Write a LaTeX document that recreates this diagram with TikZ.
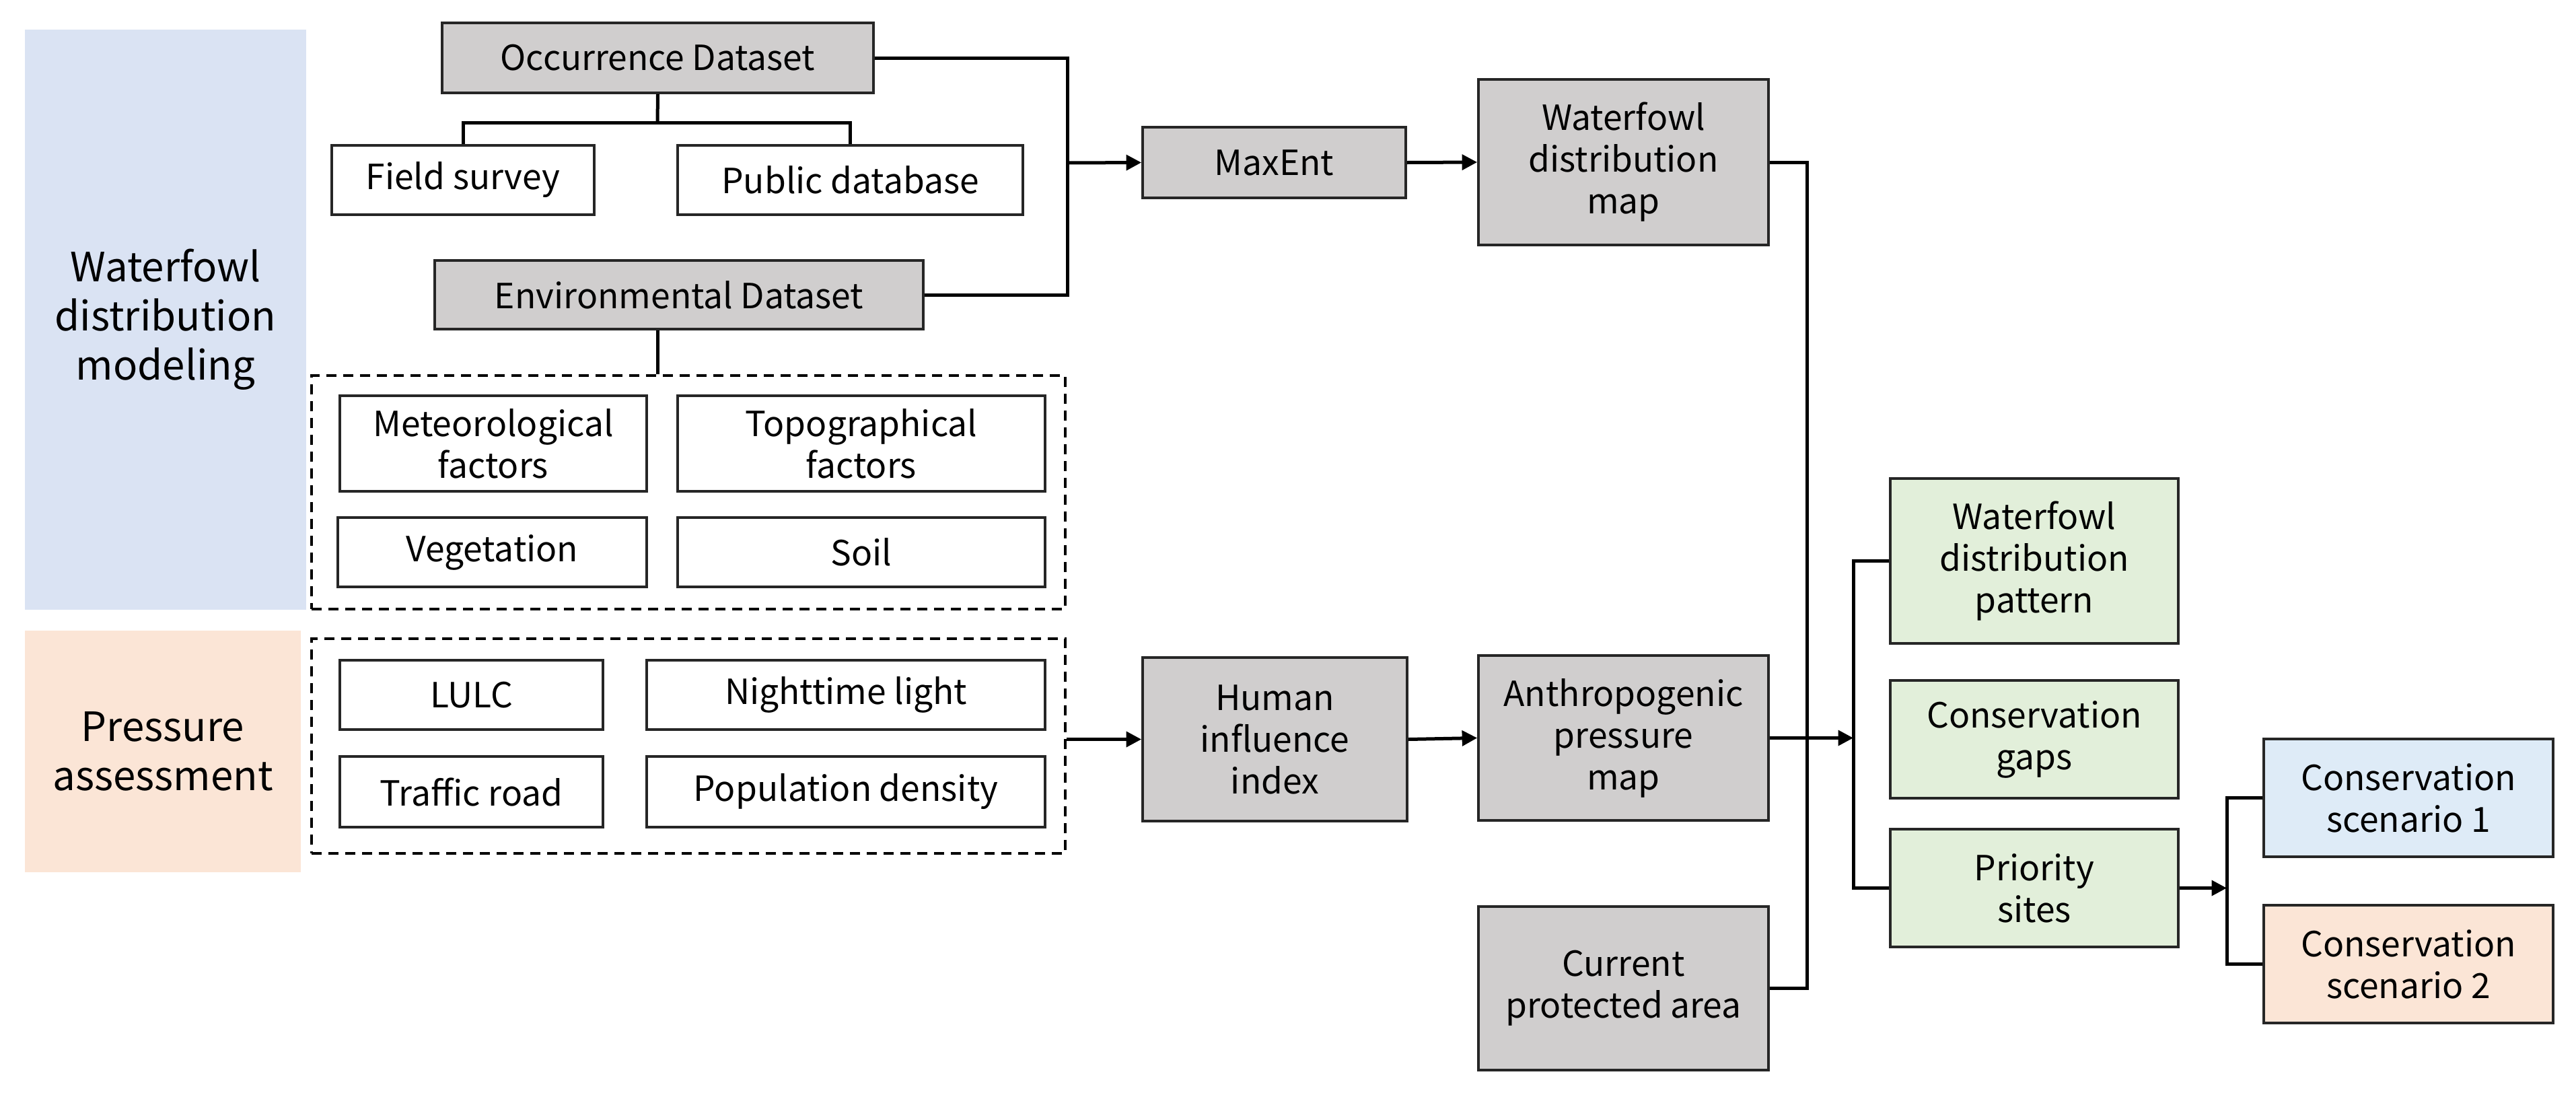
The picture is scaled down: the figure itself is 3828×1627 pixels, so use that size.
\documentclass[tikz,border=0pt]{standalone}
\usepackage{fontspec}
\setmainfont{Noto Sans CJK JP}
\usetikzlibrary{arrows.meta}
\definecolor{gry}{HTML}{D0CECE}
\definecolor{grn}{HTML}{E2EFDA}
\definecolor{bbg}{HTML}{DAE3F3}
\definecolor{pbg}{HTML}{FBE5D6}
\definecolor{sbl}{HTML}{DEEBF7}
\tikzset{
  bx/.style={draw=black!85,line width=0.75pt,align=center,inner sep=0pt,font=\fontsize{10.3}{12.4}\selectfont},
  g/.style={bx,fill=gry}, w/.style={bx,fill=white}, gr/.style={bx,fill=grn},
  dsh/.style={draw,line width=0.75pt,dash pattern=on 3pt off 2pt,inner sep=0pt},
  bg/.style={draw=none,inner sep=0pt,align=center,font=\fontsize{12}{14.6}\selectfont},
  ln/.style={line width=1pt},
  arr/.style={ln,-{Triangle[length=4.5pt,width=4.5pt]}}
}
\newcommand\bx[7]{%
  \pgfmathsetmacro\ww{(#4-#2)*0.2}\pgfmathsetmacro\hh{(#5-#3)*0.2}%
  \node[#6,minimum width=\ww pt,minimum height=\hh pt] (#1) at ({(#2+#4)/2},{(#3+#5)/2}) {#7};}
\begin{document}
\begin{tikzpicture}[x=0.2pt,y=-0.2pt]
\useasboundingbox (0,0) rectangle (3828,1627);
\bx{bgA}{37}{44}{455}{906}{bg,fill=bbg}{Waterfowl\\distribution\\modeling}
\bx{bgB}{37}{937}{447}{1296}{bg,fill=pbg}{Pressure\\assessment}
\bx{occ}{657}{34}{1298}{138}{g}{Occurrence Dataset}
\bx{field}{493}{216}{883}{319}{w}{Field survey}
\bx{pub}{1007}{216}{1520}{319}{w}{Public database}
\bx{env}{646}{387}{1372}{489}{g}{Environmental Dataset}
\bx{d1}{463}{558}{1583}{905}{dsh}{}
\bx{met}{505}{588}{961}{730}{w}{Meteorological\\factors}
\bx{top}{1007}{588}{1553}{730}{w}{Topographical\\factors}
\bx{veg}{502}{769}{961}{872}{w}{Vegetation}
\bx{soil}{1007}{769}{1553}{872}{w}{Soil}
\bx{d2}{463}{949}{1583}{1268}{dsh}{}
\bx{lulc}{505}{981}{896}{1084}{w}{LULC}
\bx{night}{961}{981}{1553}{1084}{w}{Nighttime light}
\bx{traf}{505}{1124}{896}{1229}{w}{Traffic road}
\bx{pop}{961}{1124}{1553}{1229}{w}{Population density}
\bx{maxent}{1698}{189}{2089}{294}{g}{MaxEnt}
\bx{human}{1698}{977}{2091}{1220}{g}{Human\\influence\\index}
\bx{wmap}{2197}{118}{2628}{364}{g}{Waterfowl\\distribution\\map}
\bx{anth}{2197}{974}{2628}{1219}{g}{Anthropogenic\\pressure\\map}
\bx{cur}{2197}{1347}{2628}{1590}{g}{Current\\protected area}
\bx{pat}{2809}{711}{3237}{956}{gr}{Waterfowl\\distribution\\pattern}
\bx{gaps}{2809}{1011}{3237}{1186}{gr}{Conservation\\gaps}
\bx{prio}{2809}{1232}{3237}{1407}{gr}{Priority\\sites}
\bx{s1}{3364}{1098}{3794}{1273}{bx,fill=sbl}{Conservation\\scenario 1}
\bx{s2}{3364}{1345}{3794}{1520}{bx,fill=pbg}{Conservation\\scenario 2}
\coordinate (j1) at (1586,242);
\coordinate (ob) at (977,182);
\coordinate (bus) at (2685,0);
\coordinate (gb) at (2754,0);
\coordinate (sb) at (3309,0);
\draw[ln] (occ.east) -| (j1) |- (env.east);
\draw[arr] (j1) -- (maxent.west);
\draw[ln] (occ.south) -- (ob);
\draw[ln] (ob) -| (field.north);
\draw[ln] (ob) -| (pub.north);
\draw[ln] (env.south -| occ.south) -- (d1.north -| occ.south);
\draw[arr] (maxent.east) -- (wmap.west);
\draw[arr] (d2.east |- human.west) -- (human.west);
\draw[arr] (human.east) -- (anth.west);
\draw[ln] (wmap.east) -| (bus |- cur.east) -- (cur.east);
\draw[arr] (anth.east) -- (gb |- anth.east);
\draw[ln] (pat.west) -| (gb |- prio.west) -- (prio.west);
\draw[arr] (prio.east) -- (sb |- prio.east);
\draw[ln] (s1.west) -| (sb |- s2.west) -- (s2.west);
\end{tikzpicture}
\end{document}
